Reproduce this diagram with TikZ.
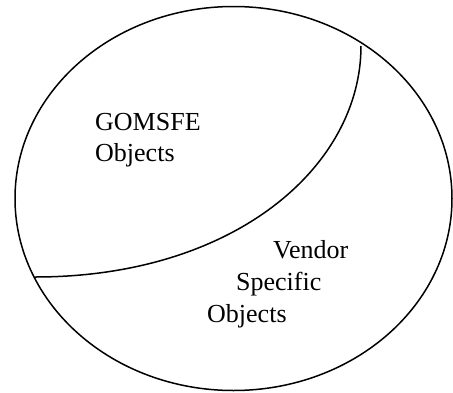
\documentclass[tikz,border=0pt]{standalone}
\usepackage{fontspec}
\setmainfont{Liberation Serif}
\begin{document}
\begin{tikzpicture}[x=1pt,y=-1pt,
  outline/.style={draw=black,line width=1.5pt},
  lbl/.style={anchor=base west,inner sep=0pt,font=\fontsize{26}{32}\selectfont}]
\useasboundingbox (0,0) rectangle (453,392);
\draw[outline] (233.5,198.5) ellipse [x radius=218.5,y radius=192];
\coordinate (ctop) at (361,46);
\coordinate (cleft) at (35,277);
\draw[outline] (ctop) .. controls (361,166) and (235,277) .. (cleft);
\node[lbl] (g1) at (95,130) {GOMSFE};
\node[lbl] (g2) at (95,161) {Objects};
\node[lbl] (v1) at (273,258) {Vendor};
\node[lbl] (v2) at (236,290) {Specific};
\node[lbl] (v3) at (207,322) {Objects};
\end{tikzpicture}
\end{document}
